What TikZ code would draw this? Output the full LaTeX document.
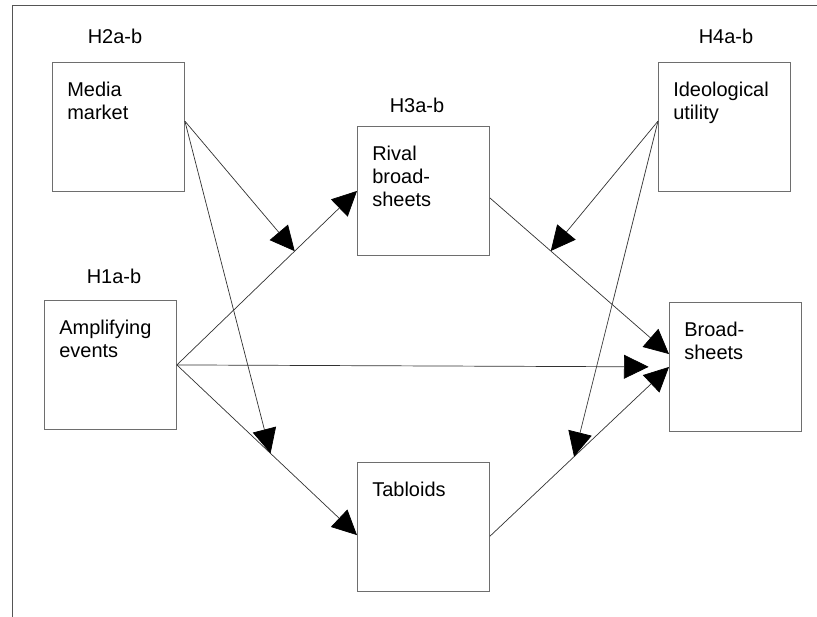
\documentclass[tikz,border=0pt]{standalone}
\usepackage{fontspec}
\setmainfont{Liberation Sans}
\usetikzlibrary{arrows.meta}
\definecolor{boxgrey}{RGB}{110,110,110}
\definecolor{linegrey}{RGB}{50,50,50}
\definecolor{framegrey}{RGB}{85,85,85}
\tikzset{
  base/.style={font=\fontsize{14.2}{16.4}\selectfont, align=left, inner sep=0pt, text=black},
  box/.style={rectangle, draw=boxgrey, fill=white, line width=0.6pt, minimum width=3.3cm, minimum height=3.225cm, anchor=north west, inner sep=0pt},
  boxtext/.style={base, anchor=north west, xshift=10.7pt, yshift=-14.2pt},
  hyp/.style={base, align=center},
  arr/.style={-{Triangle[length=17.5pt,width=17pt,color=black]}, line width=0.5pt, draw=linegrey},
  frame/.style={draw=framegrey, line width=1pt},
}
\begin{document}
\begin{tikzpicture}[x=0.025cm, y=-0.025cm]
  \useasboundingbox (0,0) rectangle (817,617);
  \draw[frame] (12.7,617) |- (817,5.5);
  % boxes
  \node[box, label={[boxtext]north west:{Media\\market}}]         (media)    at (52,62)   {};
  \node[box, label={[boxtext]north west:{Ideological\\utility}}]  (ideo)     at (658,62)  {};
  \node[box, label={[boxtext]north west:{Rival\\broad-\\sheets}}] (rival)    at (357,126) {};
  \node[box, label={[boxtext]north west:{Amplifying\\events}}]    (amp)      at (44,300)  {};
  \node[box, label={[boxtext]north west:{Broad-\\sheets}}]        (broad)    at (669,302) {};
  \node[box, label={[boxtext]north west:{Tabloids}}]              (tabloids) at (357,462) {};
  % hypotheses
  \node[hyp] (h2) at (115,36)  {H2a-b};
  \node[hyp] (h4) at (726,36)  {H4a-b};
  \node[hyp] (h3) at (417,105) {H3a-b};
  \node[hyp] (h1) at (114,276) {H1a-b};
  % main paths
  \draw[arr] (amp.east) -- (rival.west) coordinate[pos=0.654] (ar);
  \draw[arr] (amp.east) -- (tabloids.187) coordinate[pos=0.52] (at);
  \draw[arr, shorten >=14.5pt] (amp.east) -- (broad.west);
  \draw[arr] (rival.-6) -- (broad.169) coordinate[pos=0.34] (rb);
  \draw[arr] (tabloids.-8) -- (broad.west) coordinate[pos=0.47] (tb);
  % moderators
  \draw[arr] (media.5) -- (ar);
  \draw[arr] (media.5) -- (at);
  \draw[arr] (ideo.175) -- (rb);
  \draw[arr] (ideo.175) -- (tb);
\end{tikzpicture}
\end{document}
